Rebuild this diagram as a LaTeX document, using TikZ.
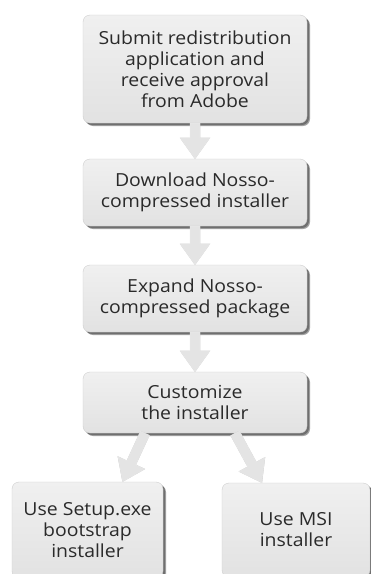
\documentclass[tikz,border=0pt]{standalone}
\usepackage{fontspec}
\setmainfont[FakeStretch=1.08]{Open Sans}
\usetikzlibrary{calc,shadows}
\definecolor{boxtop}{HTML}{F0F0F0}
\definecolor{boxbot}{HTML}{E2E2E2}
\definecolor{boxedge}{HTML}{CFCFCF}
\definecolor{shadowc}{HTML}{666666}
\definecolor{arrfill}{HTML}{E4E4E4}
\definecolor{arrshad}{HTML}{9A9A9A}
\definecolor{textc}{HTML}{2A2A2A}
\newcommand\blkarrow[3][]{%
  \path[#1] let \p1=($(#3)-(#2)$), \n1={atan2(\y1,\x1)}, \n2={veclen(\x1,\y1)} in
    [shift={(#2)}, rotate=\n1] (0,-5) -- (\n2-21,-5) -- (\n2-21,-15) -- (\n2,0)
    -- (\n2-21,15) -- (\n2-21,5) -- (0,5) -- cycle;
}
\begin{document}
\begin{tikzpicture}[x=1pt,y=-1pt,
  box/.style={rounded corners=7pt, top color=boxtop, bottom color=boxbot,
    draw=boxedge, line width=0.4pt, align=center, text=textc,
    font=\fontsize{18}{20.9}\selectfont, inner sep=0pt,
    general shadow={shadow xshift=3pt, shadow yshift=-3pt, fill=shadowc, opacity=0.6},
    general shadow={shadow xshift=2pt, shadow yshift=-2pt, fill=shadowc, opacity=0.85}},
  arrsh/.style={fill=arrshad, xshift=1.6pt, yshift=-0.6pt},
  arr/.style={fill=arrfill, draw=white!85!gray, line width=0.3pt}]
\useasboundingbox (0,0) rectangle (371,574);
\fill[white] (0,0) rectangle (371,574);
\clip (0,0) rectangle (371,574);
\node[box, minimum width=224, minimum height=108] (b1) at (195,69)
  {Submit redistribution\\application and\\receive approval\\from Adobe};
\node[box, minimum width=224, minimum height=67] (b2) at (195,192.5)
  {Download Nosso-\\compressed installer};
\node[box, minimum width=224, minimum height=67] (b3) at (195,298.5)
  {Expand Nosso-\\compressed package};
\node[box, minimum width=224, minimum height=61] (b4) at (195,402.5)
  {Customize\\the installer};
\node[box, minimum width=151, minimum height=96] (b5) at (87.5,530)
  {Use Setup.exe\\bootstrap\\installer};
\node[box, minimum width=148, minimum height=94] (b6) at (296,530)
  {Use MSI\\installer};
\coordinate (l1) at ($(b4.south)+(-50,0)$);
\coordinate (l2) at ($(b5.north)+(35,0)$);
\coordinate (r1) at ($(b4.south)+(40,0)$);
\coordinate (r2) at ($(b6.north)+(-34,0)$);
\foreach \a/\b in {b1.south/b2.north, b2.south/b3.north, b3.south/b4.north, l1/l2, r1/r2}{
  \blkarrow[arrsh]{\a}{\b}
  \blkarrow[arr]{\a}{\b}
}
\end{tikzpicture}
\end{document}
